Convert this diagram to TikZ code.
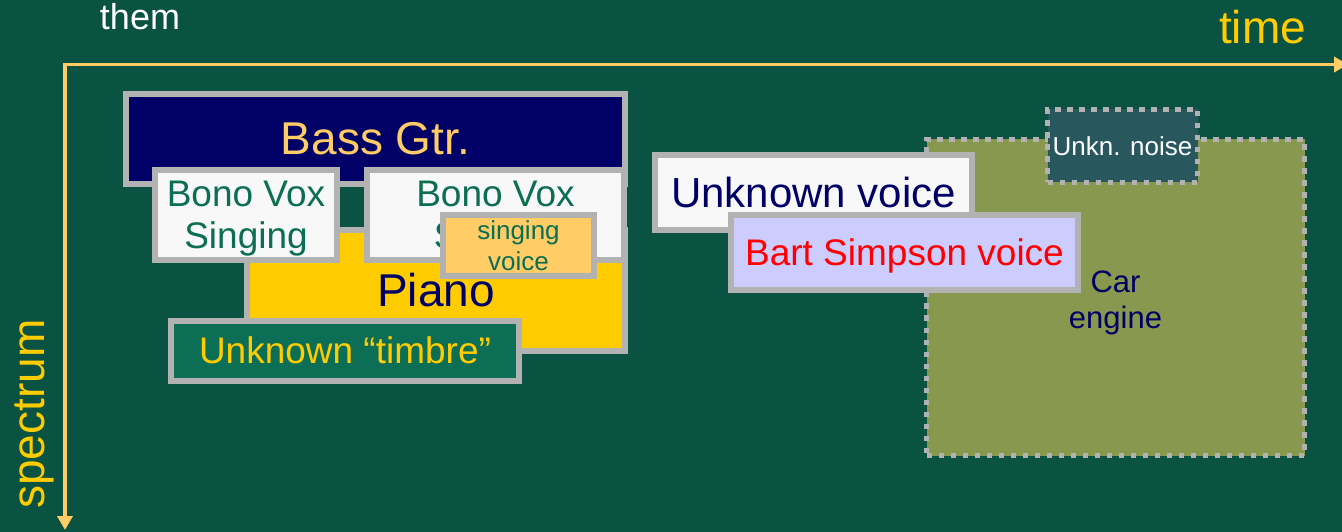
\documentclass[tikz,border=0pt]{standalone}
\usepackage{fontspec}
\setmainfont{Liberation Sans}
\usetikzlibrary{arrows.meta}

\definecolor{bg}{RGB}{10,82,65}
\definecolor{boxgray}{RGB}{178,178,178}
\definecolor{navy}{RGB}{0,0,102}
\definecolor{lightorange}{RGB}{255,204,102}
\definecolor{goldyellow}{RGB}{255,204,0}
\definecolor{offwhite}{RGB}{248,248,248}
\definecolor{voxgreen}{RGB}{12,110,82}
\definecolor{timbregreen}{RGB}{12,110,85}
\definecolor{lavender}{RGB}{204,204,255}
\definecolor{pureRed}{RGB}{255,0,0}
\definecolor{engineolive}{RGB}{136,152,78}
\definecolor{noiseteal}{RGB}{40,88,94}

% invisible strut that lowers a two-line label inside its box
\newcommand{\lowerstrut}[1]{\rule{0pt}{#1}}

\begin{document}
\begin{tikzpicture}[x=1pt,y=-1pt,
  f/.style 2 args={font=\fontsize{#1}{#2}\selectfont},
  box/.style={draw=boxgray, line width=6pt, inner sep=0pt, align=center},
  dotbox/.style={draw=boxgray, line width=5.3pt, dash pattern=on 5.3pt off 6.7pt,
                 inner sep=0pt, align=center},
  axisline/.style={draw=lightorange, line width=3.5pt, line join=miter},
]
% background and page size
\fill[bg] (0,0) rectangle (1342,532);
\useasboundingbox (0,0) rectangle (1342,532);

% axes
\coordinate (o) at (65,64.5);
\coordinate (xend) at (1348,64.5);
\coordinate (yend) at (65,530);
\draw[axisline, {Triangle[width=15pt,length=14pt]}-{Triangle[width=15pt,length=14pt]}]
  (yend) -- (o) -- (xend);

% axis labels and caption
\node[text=white, f={36}{41}, anchor=base] (them) at (140,30) {them};
\node[text=goldyellow, f={46}{53}, anchor=base] (time) at (1262.5,43.3) {time};
\node[text=goldyellow, f={46}{53}, anchor=base, rotate=90] (spectrum) at (45,414) {spectrum};

% left group of sources
\node[box, fill=navy, text=lightorange, minimum width=499pt, minimum height=90pt, f={46}{53}]
  (bass) at (375.5,139) {Bass Gtr.};
\node[box, fill=goldyellow, text=navy, minimum width=378pt, minimum height=121pt, f={46}{53}]
  (piano) at (436,290.5) {Piano};
\node[box, fill=offwhite, text=voxgreen, minimum width=182pt, minimum height=90pt, f={37}{42}]
  (bono1) at (246,215) {\lowerstrut{32.5pt}Bono Vox\\Singing};
\node[box, fill=offwhite, text=voxgreen, minimum width=257pt, minimum height=90pt, f={37}{42}]
  (bono2) at (495.5,215) {\lowerstrut{32.5pt}Bono Vox\\Singing};
\node[box, fill=lightorange, text=voxgreen, minimum width=151pt, minimum height=61pt, f={26}{31}]
  (singv) at (518.5,245.5) {singing\\voice};
\node[box, fill=timbregreen, text=goldyellow, minimum width=348pt, minimum height=59.5pt, f={37}{42}]
  (timbre) at (345,350.75) {Unknown “timbre”};

% right group of sources
\node[dotbox, fill=engineolive, text=navy, minimum width=378pt, minimum height=316pt, f={31}{36}]
  (car) at (1115.5,297.5) {\lowerstrut{32pt}Car\\engine};
\node[dotbox, fill=noiseteal, text=white, minimum width=150pt, minimum height=73pt, f={26}{30}]
  (noise) at (1122.5,146) {Unkn. noise};
\node[box, fill=offwhite, text=navy, minimum width=317pt, minimum height=75pt, f={42}{48}]
  (uvoice) at (813.5,192.5) {Unknown voice};
\node[box, fill=lavender, text=pureRed, minimum width=347pt, minimum height=75pt,
      text depth=0pt, f={37}{42}]
  (bart) at (904.5,252.5) {Bart Simpson voice};
\end{tikzpicture}
\end{document}
